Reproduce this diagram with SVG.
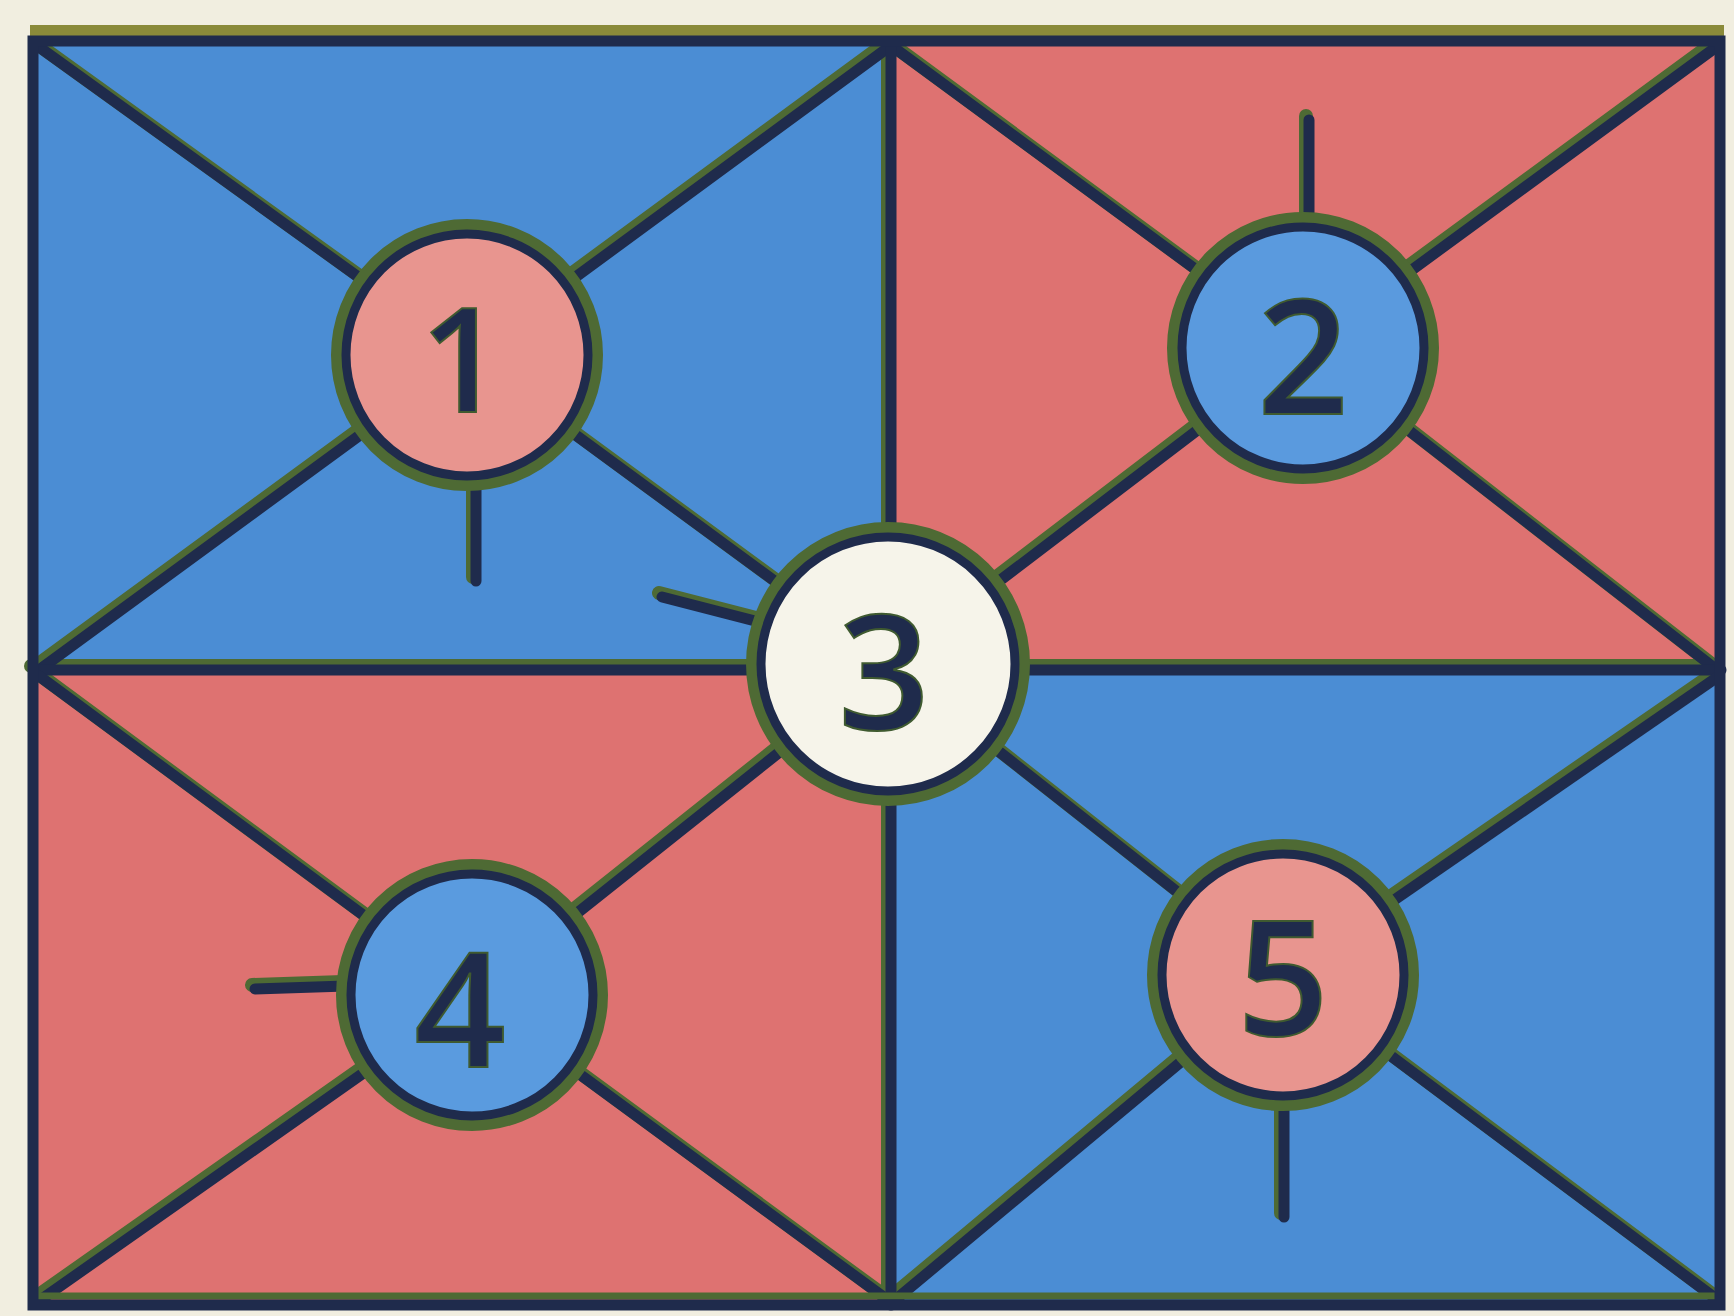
<svg xmlns="http://www.w3.org/2000/svg" xmlns:xlink="http://www.w3.org/1999/xlink" width="1734" height="1316" viewBox="0 0 1734 1316">
<style>
.blue{fill:#4b8dd4}
.red{fill:#de7271}
.ring-o{fill:none;stroke:#4e6a34;stroke-width:16}
.ring-n{fill:none;stroke:#1f2b4c;stroke-width:9}
.num{font-family:"Open Sans","Liberation Sans",Arial,sans-serif;font-weight:600;font-size:160px;fill:#1f2b4c;stroke:#3f5a30;stroke-width:2;text-anchor:middle}
</style>
<defs>
<g id="linework" fill="none">
<line x1="38" y1="46" x2="467" y2="355"/>
<line x1="888" y1="46" x2="467" y2="355"/>
<line x1="38" y1="669" x2="467" y2="355"/>
<line x1="467" y1="355" x2="888" y2="664"/>
<line x1="475" y1="480" x2="475" y2="580"/>
<line x1="661" y1="596" x2="758" y2="621"/>
<line x1="892" y1="46" x2="1303" y2="348"/>
<line x1="1718" y1="44" x2="1303" y2="348"/>
<line x1="1303" y1="348" x2="888" y2="664"/>
<line x1="1303" y1="348" x2="1716" y2="669"/>
<line x1="1308" y1="222" x2="1308" y2="119"/>
<line x1="33" y1="669" x2="1720" y2="669"/>
<line x1="890" y1="41" x2="890" y2="1304"/>
<line x1="38" y1="675" x2="472" y2="995"/>
<line x1="888" y1="664" x2="472" y2="995"/>
<line x1="38" y1="1300" x2="472" y2="995"/>
<line x1="888" y1="1300" x2="472" y2="995"/>
<line x1="254" y1="988" x2="345" y2="985"/>
<line x1="888" y1="664" x2="1283" y2="975"/>
<line x1="1718" y1="675" x2="1283" y2="975"/>
<line x1="893" y1="1300" x2="1283" y2="975"/>
<line x1="1718" y1="1300" x2="1283" y2="975"/>
<line x1="1283" y1="1100" x2="1283" y2="1216"/>
</g>
</defs>
<rect x="0" y="0" width="1734" height="1316" fill="#f1eee0"/>
<g id="panels">
<rect class="blue" x="33" y="41" width="857" height="628"/>
<rect class="red" x="890" y="41" width="830" height="628"/>
<rect class="red" x="33" y="669" width="857" height="635"/>
<rect class="blue" x="890" y="669" width="830" height="635"/>
</g>
<g id="connectors" stroke-linecap="round">
<use xlink:href="#linework" transform="translate(-2,-3)" stroke="#4e6a34" stroke-width="14"/>
<use xlink:href="#linework" transform="translate(1,1)" stroke="#1f2b4c" stroke-width="11"/>
</g>
<g id="frame" fill="none">
<line x1="30" y1="31" x2="1724" y2="31" stroke="#8a8a3a" stroke-width="12"/>
<line x1="33" y1="1296" x2="1720" y2="1296" stroke="#4e6a34" stroke-width="7"/>
<rect x="33" y="41" width="1687" height="1264" stroke="#1f2b4c" stroke-width="11"/>
</g>
<g id="node1">
<circle cx="467" cy="355" r="128" fill="#e8958f"/>
<circle class="ring-o" cx="467" cy="355" r="128"/>
<circle class="ring-n" cx="467" cy="355" r="121"/>
<text class="num" x="462" y="412" style="font-size:145px">1</text>
</g>
<g id="node2">
<circle cx="1303" cy="348" r="128" fill="#5a9ade"/>
<circle class="ring-o" cx="1303" cy="348" r="128"/>
<circle class="ring-n" cx="1303" cy="348" r="121"/>
<text class="num" x="1303" y="414">2</text>
</g>
<g id="node3">
<circle cx="888" cy="664" r="134" fill="#f6f4ea"/>
<circle class="ring-o" cx="888" cy="664" r="134"/>
<circle class="ring-n" cx="888" cy="664" r="127"/>
<text class="num" x="884" y="729">3</text>
</g>
<g id="node4">
<circle cx="472" cy="995" r="128" fill="#5a9bdf"/>
<circle class="ring-o" cx="472" cy="995" r="128"/>
<circle class="ring-n" cx="472" cy="995" r="121"/>
<text class="num" x="460" y="1067">4</text>
</g>
<g id="node5">
<circle cx="1283" cy="975" r="128" fill="#e8958f"/>
<circle class="ring-o" cx="1283" cy="975" r="128"/>
<circle class="ring-n" cx="1283" cy="975" r="121"/>
<text class="num" x="1283" y="1035">5</text>
</g>
</svg>
